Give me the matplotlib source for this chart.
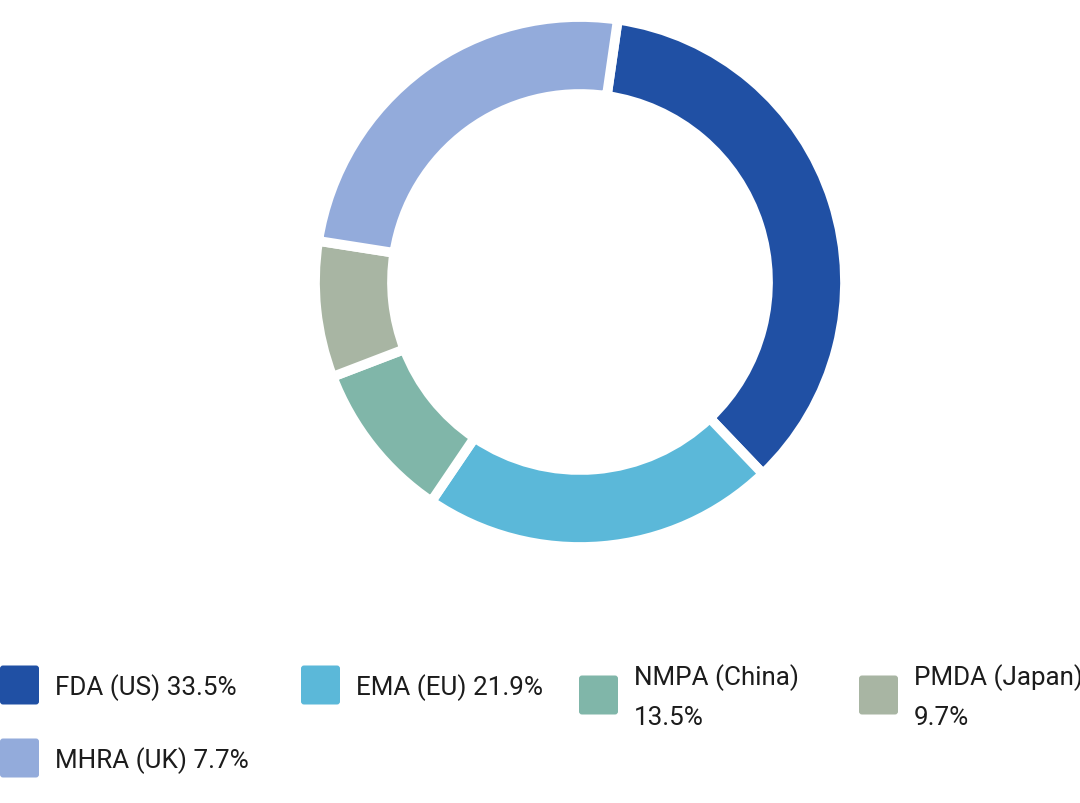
import matplotlib
matplotlib.use("Agg")
import matplotlib.pyplot as plt
from matplotlib.patches import FancyBboxPatch

# ---- data ----
regulators = ["FDA (US)", "EMA (EU)", "NMPA (China)", "PMDA (Japan)", "MHRA (UK)"]
legend_pct = [33.5, 21.9, 13.5, 9.7, 7.7]
slice_share = [35.6, 21.6, 9.7, 8.3, 24.8]   # arc shares as drawn in the ring
colors = ["#2050A4", "#5BB8D9", "#80B6A9", "#A8B5A3", "#93ABDB"]

# ---- layout (figure pixels, y measured from top) ----
W, H = 1080, 804
fig = plt.figure(figsize=(W / 100, H / 100), dpi=100)
ax = fig.add_axes([0, 0, 1, 1])
ax.set_xlim(0, W)
ax.set_ylim(0, H)
ax.set_aspect("equal")
ax.axis("off")

cx, cy = 580, 283
ax.pie(slice_share, colors=colors, startangle=81.8, counterclock=False,
       center=(cx, H - cy), radius=265,
       wedgeprops=dict(width=77, edgecolor="white", linewidth=7))
ax.set_xlim(0, W)
ax.set_ylim(0, H)

# ---- legend ----
leg_x = [0, 301, 579, 859, 0]
leg_wrap = [False, False, True, True, False]
leg_center_y = [686, 686, 696, 696, 759]
sw = 39
font = dict(family=["Roboto", "DejaVu Sans"], fontsize=18.7, color="#1c1c1c")
for name, pct, col, x0, wrap, yc in zip(regulators, legend_pct, colors,
                                        leg_x, leg_wrap, leg_center_y):
    box = FancyBboxPatch((x0 + 3, H - yc - sw / 2 + 3), sw - 6, sw - 6,
                         boxstyle="round,pad=3", facecolor=col,
                         edgecolor="none", transform=ax.transData,
                         clip_on=False)
    ax.add_patch(box)
    lines = [name, f"{pct}%"] if wrap else [f"{name} {pct}%"]
    n = len(lines)
    first_base = yc + 9.5 - (n - 1) * 20
    for i, ln in enumerate(lines):
        ax.text(x0 + 55, H - (first_base + i * 40), ln, ha="left",
                va="baseline", **font)

fig.savefig("out.png", dpi=100, facecolor="white")
